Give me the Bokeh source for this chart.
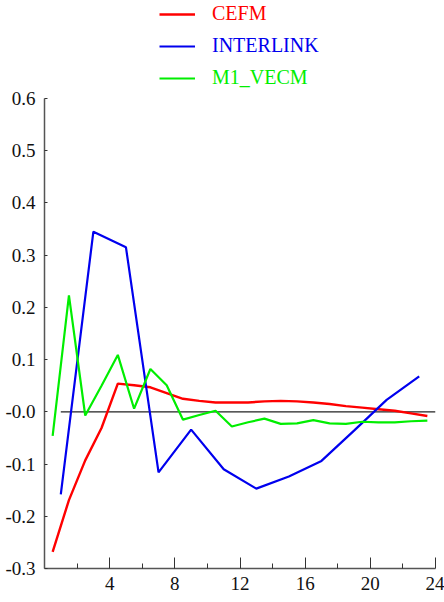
from bokeh.plotting import figure
from bokeh.models import Range1d, FixedTicker, Legend, LegendItem
from bokeh.embed import file_html
from bokeh.resources import INLINE

# impulse responses
half_steps = [0.5, 1.5, 2.5, 3.5, 4.5, 5.5, 6.5, 7.5, 8.5, 9.5, 10.5, 11.5,
              12.5, 13.5, 14.5, 15.5, 16.5, 17.5, 18.5, 19.5, 20.5, 21.5, 22.5, 23.5]
cefm = [-0.268, -0.169, -0.093, -0.031, 0.054, 0.051, 0.047, 0.036, 0.025, 0.021,
        0.018, 0.018, 0.018, 0.020, 0.021, 0.020, 0.018, 0.015, 0.011, 0.008,
        0.005, 0.002, -0.003, -0.008]
m1_vecm = [-0.046, 0.223, -0.007, 0.050, 0.109, 0.006, 0.082, 0.051, -0.015, -0.006,
           0.002, -0.028, -0.020, -0.013, -0.023, -0.022, -0.016, -0.022, -0.023, -0.019,
           -0.020, -0.020, -0.018, -0.017]
odd_steps = [1, 3, 5, 7, 9, 11, 13, 15, 17, 19, 21, 23]
interlink = [-0.158, 0.345, 0.315, -0.116, -0.034, -0.110, -0.147, -0.124, -0.094,
             -0.036, 0.023, 0.068]

zero_x = [1, 24]
zero_y = [0, 0]

x_ticks = [4, 8, 12, 16, 20, 24]
x_minor = [2, 6, 10, 14, 18, 22]
y_ticks = [-0.3, -0.2, -0.1, 0.0, 0.1, 0.2, 0.3, 0.4, 0.5, 0.6]
y_tick_labels = ["-0.3", "-0.2", "-0.1", "-0.0", "0.1", "0.2", "0.3", "0.4", "0.5", "0.6"]

FONT = "'Liberation Serif', serif"

# frame runs up to the top of the canvas so the legend can sit inside it;
# the y axis itself is bounded to -0.3 .. 0.6
p = figure(width=444, height=600, output_backend="svg", toolbar_location=None,
           x_range=Range1d(0, 24), y_range=Range1d(-0.3, 0.7877),
           min_border_left=44, min_border_right=9, min_border_top=0, min_border_bottom=32)
p.outline_line_color = None
p.grid.visible = False

p.line(zero_x, zero_y, line_color="#222222", line_width=1.2)
r_cefm = p.line(half_steps, cefm, line_color="#ff0000", line_width=2.4)
r_inter = p.line(odd_steps, interlink, line_color="#0000ee", line_width=2.2)
r_m1 = p.line(half_steps, m1_vecm, line_color="#00ee00", line_width=2.2)

for ax in (p.xaxis[0], p.yaxis[0]):
    ax.axis_line_color = "#555555"
    ax.axis_line_width = 1.5
    ax.major_tick_line_color = "#333333"
    ax.minor_tick_line_color = "#333333"
    ax.major_tick_out = 0
    ax.minor_tick_out = 0
    ax.major_label_text_font = FONT
    ax.major_label_text_font_size = "19px"
    ax.major_label_text_color = "#111111"

p.xaxis.ticker = FixedTicker(ticks=x_ticks, minor_ticks=x_minor)
p.xaxis.major_tick_in = 11
p.xaxis.minor_tick_in = 5
p.xaxis.major_label_standoff = 8

p.yaxis.bounds = (-0.3, 0.6)
p.yaxis.ticker = FixedTicker(ticks=y_ticks, minor_ticks=[])
p.yaxis.major_label_overrides = {t: s for t, s in zip(y_ticks, y_tick_labels)}
p.yaxis.major_tick_in = 3
p.yaxis.major_label_standoff = 9

# one legend per entry so each label takes its line colour
entries = [("CEFM", r_cefm, "#ff0000", 543),
           ("INTERLINK", r_inter, "#0000ee", 511),
           ("M1_VECM", r_m1, "#00ee00", 479)]
for name, rend, colour, vy in entries:
    lg = Legend(items=[LegendItem(label=name, renderers=[rend])], location=(115, vy),
                glyph_width=36, glyph_height=22, label_height=22, label_standoff=17,
                padding=0, margin=0, border_line_color=None, background_fill_alpha=0,
                label_text_font=FONT, label_text_font_size="20px", label_text_color=colour)
    p.add_layout(lg, "center")

open("out.html", "w").write(file_html(p, INLINE))
